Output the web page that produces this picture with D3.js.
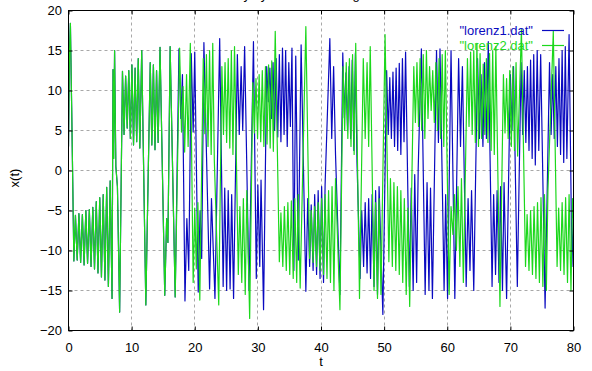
<!DOCTYPE html>
<html>
<head>
<meta charset="utf-8">
<script src="https://cdn.jsdelivr.net/npm/d3@7"></script>
<style>
  body { margin: 0; background: #fff; }
  svg { display: block; }
</style>
</head>
<body>
<div id="graph"></div>
<script>
// Tick values and series names
const xTicks = [0, 10, 20, 30, 40, 50, 60, 70, 80];
const yTicks = [-20, -15, -10, -5, 0, 5, 10, 15, 20];
const seriesNames = ['"lorenz1.dat"', '"lorenz2.dat"'];
const titleText = "Lorenz Sensitivity by a minute change";

// Turning points [t, x(t)].
// Both runs lie on top of each other until about t = 17
const sharedStart = [
  [0.0, 3.0], [0.15, 14.5], [0.3, 18.4], [0.5, 8.0], [0.85, -11.3],
  [1.1, -5.6], [1.38, -11.2], [1.65, -5.4], [1.92, -11.5], [2.2, -5.5], [2.47, -11.8],
  [2.75, -5.0], [3.02, -11.6], [3.3, -4.9], [3.57, -12.0], [3.85, -4.6], [4.12, -12.3],
  [4.4, -3.9], [4.67, -12.8], [4.95, -3.4], [5.22, -13.3], [5.5, -3.0], [5.77, -13.7],
  [6.05, -2.1], [6.32, -14.5], [6.6, -1.3], [6.9, -16.0],
  [7.05, 12.6], [7.15, 1.5], [7.3, 15.0], [7.5, 0.5], [7.75, -2.0], [8.1, -17.7],
  [8.55, 12.4], [8.8, 4.5], [9.05, 11.8], [9.3, 5.3], [9.55, 12.5], [9.8, 4.0],
  [10.05, 13.2], [10.3, 3.2], [10.55, 12.8], [10.8, 3.6], [11.05, 14.0], [11.3, 2.8],
  [11.6, 15.0], [12.25, -16.8],
  [12.95, 13.5], [13.2, 3.2], [13.45, 13.2], [13.7, 2.6], [13.95, 12.5], [14.2, 3.5],
  [14.5, 15.4], [15.25, -15.6], [15.55, -6.0], [15.75, -9.0], [16.1, 15.5], [16.9, -15.8]
];

// lorenz1.dat after the runs split
const lorenz1Tail = [
  [17.5, 15.2], [17.8, 6.5], [18.05, 12.0], [18.45, -16.3], [18.75, -6.0], [19.05, -12.5],
  [19.45, 14.6], [19.75, 4.8], [20.0, 14.8], [20.55, -15.2], [20.85, -5.0], [21.1, -11.0],
  [21.45, 16.0], [22.35, -14.8], [22.65, -3.5], [23.2, -16.0], [23.95, 16.5],
  [24.5, -14.5], [24.75, -2.2], [25.05, -15.0], [25.3, -2.5], [25.6, -14.8], [25.85, -3.0], [26.15, -16.0],
  [26.75, 14.5], [27.05, 4.5], [27.35, 13.0], [27.6, 5.0], [27.9, 15.5], [28.6, -15.0],
  [29.3, 16.1], [29.75, -13.5], [30.0, -1.8], [30.3, -12.0], [30.5, -1.2], [30.9, -17.4],
  [31.4, 13.0], [31.65, 8.6], [31.9, 12.8], [32.15, 6.5], [32.4, 13.5], [32.65, 5.0], [32.9, 14.0],
  [33.15, 4.2], [33.4, 14.5], [33.65, 3.6], [33.9, 15.3], [34.15, 4.5], [34.4, 15.0], [34.65, 3.0],
  [34.9, 13.5], [35.15, 5.5], [35.4, 15.3], [35.7, -12.5], [36.0, 14.3], [36.4, -11.2], [36.85, 15.7],
  [37.6, -15.1], [37.9, -3.5], [38.2, -12.0], [38.45, -4.3], [38.75, -12.5], [39.0, -3.0], [39.3, -13.0],
  [39.55, -2.5], [39.85, -13.5], [40.1, -2.0], [40.4, -14.0], [40.65, -1.8], [41.4, 16.5],
  [41.7, 4.0], [42.0, 13.0], [42.3, 2.0], [43.0, -15.5], [43.45, 14.7], [43.7, 6.6], [43.95, 12.2],
  [44.2, 5.0], [44.45, 13.0], [44.7, 4.0], [44.95, 13.8], [45.2, 2.5], [45.45, 14.7], [45.7, 1.1],
  [46.2, -13.5], [46.45, -5.0], [46.75, -12.0], [47.0, -4.0], [47.3, -12.8], [47.55, -3.5], [47.85, -13.5],
  [48.1, -3.0], [48.4, -14.5], [48.65, -2.5], [48.95, -15.5], [49.2, -2.0], [49.8, -18.0],
  [50.4, 12.5], [50.65, 4.5], [50.9, 11.6], [51.15, 4.0], [51.4, 12.3], [51.65, 3.0], [51.9, 12.8],
  [52.15, 2.5], [52.4, 13.4], [52.65, 2.0], [52.9, 14.0], [53.15, 3.6], [53.4, 14.8],
  [54.0, -14.5], [54.3, -2.2], [54.6, -15.0], [54.85, -0.5], [55.15, -14.0], [55.4, 0.3], [55.9, 15.2],
  [56.5, -15.5], [56.8, -1.5], [57.1, -15.0], [57.35, -2.2], [57.65, -16.0], [58.3, 15.0], [58.6, 3.5],
  [58.85, 15.2], [59.5, -15.0], [59.75, -3.0], [60.05, -16.0], [60.6, 15.0], [61.2, -16.0], [61.8, 14.0],
  [62.1, 3.0], [62.4, 13.0], [63.0, -14.5], [63.3, -3.5], [63.6, -12.5], [63.85, -2.5], [64.2, -15.0],
  [64.8, 14.0], [65.1, 4.0], [65.35, 12.0], [65.65, 3.0], [65.9, 13.5], [66.2, 4.0], [66.5, 16.1],
  [67.1, -14.5], [67.35, -3.0], [67.65, -13.0], [67.9, -2.5], [68.2, -14.0], [68.45, -2.0], [68.75, -15.0],
  [69.0, -1.5], [69.4, -16.0], [70.0, 12.0], [70.25, 5.0], [70.5, 13.0], [71.1, -14.5], [71.7, 13.5],
  [71.95, 4.5], [72.2, 12.5], [72.45, 3.5], [72.7, 13.0], [72.95, 2.5], [73.2, 13.8], [73.45, 1.5],
  [73.7, 14.5], [73.95, 0.7], [74.25, 15.0], [74.5, 2.5], [74.8, 14.5], [75.5, -17.2], [76.2, 13.5],
  [76.45, 4.5], [76.7, 12.0], [76.95, 4.0], [77.2, 13.0], [77.45, 3.0], [77.7, 14.0], [77.95, 2.0],
  [78.2, 15.0], [78.45, 1.0], [78.7, 15.5], [78.95, 1.5], [79.3, 17.0], [79.75, -12.0], [80.0, -5.0]
];

// lorenz2.dat after the runs split
const lorenz2Tail = [
  [17.6, 15.3], [17.9, 4.8], [18.15, 10.5], [18.4, 2.3], [18.7, 12.0], [18.95, 3.0], [19.3, 15.9],
  [19.75, -14.0], [20.0, -4.7], [20.25, -12.3], [20.5, -4.0], [20.8, -16.2],
  [21.35, 14.0], [21.6, 4.6], [21.85, 14.5], [22.1, 3.0], [22.35, 15.0], [22.6, 2.0], [22.85, 15.9], [23.1, 1.3],
  [23.8, -16.8], [24.3, 13.0], [24.55, 4.5], [24.8, 13.5], [25.05, 3.5], [25.3, 14.0], [25.55, 2.8],
  [25.8, 15.0], [26.05, 2.0], [26.3, 15.5], [26.9, -13.0], [27.15, -4.5], [27.45, -14.0], [27.7, -3.5],
  [28.0, -15.5], [28.25, -2.5], [28.7, -18.5], [29.2, 11.0], [29.45, 4.7], [29.7, 11.5], [29.95, 4.0],
  [30.2, 12.0], [30.45, 3.6], [30.7, 12.5], [30.95, 3.0], [31.2, 13.0], [31.45, 3.3], [31.7, 13.2],
  [31.95, 2.8], [32.2, 13.7], [32.45, 2.4], [32.75, 17.4], [33.4, -11.4], [33.65, -5.3], [33.95, -12.0],
  [34.2, -4.5], [34.5, -12.5], [34.75, -4.0], [35.05, -13.0], [35.3, -3.8], [35.6, -13.5], [35.85, -3.5],
  [36.15, -14.0], [36.4, -3.0], [36.7, -14.7], [37.6, 18.0], [38.2, -11.0], [38.45, -5.0], [38.75, -11.5],
  [39.0, -4.5], [39.3, -12.0], [39.55, -4.0], [39.85, -12.5], [40.1, -3.5], [40.4, -13.0], [40.65, -3.0],
  [40.95, -13.5], [41.2, -2.5], [41.5, -14.0], [41.75, -2.0], [42.05, -15.0], [42.3, -1.0], [43.0, -17.4],
  [43.5, 13.0], [43.75, 5.0], [44.0, 13.5], [44.25, 4.0], [44.5, 14.0], [44.75, 3.0], [45.0, 14.5],
  [45.25, 2.0], [45.5, 15.9], [46.1, -16.0], [46.7, 14.0], [47.0, 4.0], [47.3, 13.5], [47.55, 3.0],
  [47.8, 15.5], [48.4, -15.0], [48.65, -4.0], [48.95, -16.0], [49.2, -3.5], [49.5, -15.5], [50.15, 17.0],
  [50.75, -11.4], [51.0, -1.0], [51.3, -12.0], [51.55, -1.5], [51.85, -12.5], [52.1, -2.0], [52.4, -13.0],
  [52.65, -2.5], [52.95, -14.0], [53.2, -3.5], [53.5, -15.5], [53.75, -4.7], [54.05, -17.0],
  [54.7, 13.0], [54.95, 6.0], [55.2, 13.5], [55.45, 5.5], [55.7, 14.0], [55.95, 5.0], [56.2, 14.5],
  [56.45, 4.0], [56.7, 15.0], [56.95, 6.5], [57.2, 13.0], [57.45, 7.5], [57.7, 12.5], [57.95, 6.0],
  [58.2, 13.5], [58.45, 5.0], [58.7, 14.0], [58.95, 4.0], [59.2, 14.5], [59.45, 3.0], [59.7, 15.0],
  [60.3, -15.5], [60.6, -4.5], [60.9, -8.0], [61.15, -3.0], [61.45, -10.0], [61.7, -2.0], [62.0, -12.0],
  [62.25, -1.0], [62.55, -14.0], [63.2, 14.0], [63.45, 5.5], [63.7, 14.8], [63.95, 4.5], [64.2, 15.0],
  [64.45, 3.5], [64.7, 15.9], [64.95, 3.0], [65.2, 14.6], [65.45, 4.0], [65.7, 13.3], [65.95, 4.5],
  [66.2, 14.0], [66.45, 3.5], [66.7, 14.6], [66.95, 2.5], [67.2, 15.0], [67.45, 2.0], [67.7, 15.5],
  [68.35, -17.0], [68.9, 12.0], [69.15, 4.7], [69.4, 11.5], [69.65, 4.0], [69.9, 12.5], [70.15, 3.0],
  [70.4, 13.0], [70.65, 2.5], [70.9, 13.5], [71.15, 1.8], [71.75, 17.6], [72.4, -12.0], [72.65, -5.5],
  [72.95, -12.5], [73.2, -5.0], [73.5, -13.0], [73.75, -4.5], [74.05, -13.5], [74.3, -4.0], [74.6, -14.0],
  [74.85, -3.4], [75.15, -14.5], [75.4, -3.0], [75.7, -15.0], [75.95, -2.5], [76.8, 17.4], [77.4, -12.0],
  [77.65, -4.7], [77.95, -12.5], [78.2, -4.0], [78.5, -13.0], [78.75, -3.4], [79.05, -14.0], [79.3, -3.0],
  [79.6, -15.0], [79.85, -3.5], [80.0, -6.0]
];

const lorenz1 = sharedStart.concat(lorenz1Tail);
const lorenz2 = sharedStart.concat(lorenz2Tail);

// Size of the page and of the framed plot area
const width = 592;
const height = 371;
const plot = {left: 68.5, right: 573.5, top: 10.5, bottom: 330.5};
const font = "'Liberation Sans', Arial, Helvetica, sans-serif";
const colors = ["#0a0ac0", "#1cd81c"];

const svg = d3.select("#graph")
  .append("svg")
    .attr("width", width)
    .attr("height", height)
    .style("font-family", font);

svg.append("rect")
  .attr("width", width)
  .attr("height", height)
  .attr("fill", "#fff");

// Scales
const x = d3.scaleLinear().domain([0, 80]).range([plot.left, plot.right]);
const y = d3.scaleLinear().domain([-20, 20]).range([plot.bottom, plot.top]);
const crisp = v => Math.round(v - 0.5) + 0.5;

// Title sits above the page edge, as in the original only the descenders show
svg.append("text")
  .attr("x", 148)
  .attr("y", -1)
  .style("font-size", "13px")
  .attr("fill", "#000")
  .text(titleText);

// Dashed gridlines
const grid = svg.append("g")
  .attr("stroke", "#a8a8a8")
  .attr("stroke-width", 1)
  .attr("stroke-dasharray", "3,3");
grid.selectAll(".vgrid")
  .data(xTicks.slice(1, -1))
  .join("line")
    .attr("x1", d => crisp(x(d))).attr("x2", d => crisp(x(d)))
    .attr("y1", plot.top).attr("y2", plot.bottom);
grid.selectAll(".hgrid")
  .data(yTicks.slice(1, -1))
  .join("line")
    .attr("x1", plot.left).attr("x2", plot.right)
    .attr("y1", d => crisp(y(d))).attr("y2", d => crisp(y(d)));

// Clip the curves to the frame
svg.append("clipPath")
  .attr("id", "clip")
  .append("rect")
    .attr("x", plot.left).attr("y", plot.top)
    .attr("width", plot.right - plot.left).attr("height", plot.bottom - plot.top);

const line = d3.line()
  .x(d => x(d[0]))
  .y(d => y(d[1]));

svg.append("g")
  .attr("clip-path", "url(#clip)")
  .selectAll("path")
  .data([lorenz1, lorenz2])
  .join("path")
    .attr("d", d => line(d))
    .attr("fill", "none")
    .attr("stroke", (d, i) => colors[i])
    .attr("stroke-width", 1.2)
    .attr("stroke-linejoin", "round");

// Axes with inward ticks on all four sides
function styleAxis(g) {
  g.select(".domain").remove();
  g.selectAll("line").attr("stroke", "#000");
  g.selectAll("text")
    .attr("fill", "#000")
    .style("font-family", font)
    .style("font-size", "13px");
}

svg.append("g")
  .attr("transform", `translate(0,${plot.bottom})`)
  .call(d3.axisBottom(x).tickValues(xTicks).tickFormat(d3.format("d"))
    .tickSizeInner(-4).tickSizeOuter(0).tickPadding(12))
  .call(styleAxis);

svg.append("g")
  .attr("transform", `translate(0,${plot.top})`)
  .call(d3.axisTop(x).tickValues(xTicks).tickFormat("")
    .tickSizeInner(-4).tickSizeOuter(0))
  .call(styleAxis);

svg.append("g")
  .attr("transform", `translate(${plot.left},0)`)
  .call(d3.axisLeft(y).tickValues(yTicks).tickFormat(d3.format("d"))
    .tickSizeInner(-4).tickSizeOuter(0).tickPadding(6.5))
  .call(styleAxis);

svg.append("g")
  .attr("transform", `translate(${plot.right},0)`)
  .call(d3.axisRight(y).tickValues(yTicks).tickFormat("")
    .tickSizeInner(-4).tickSizeOuter(0))
  .call(styleAxis);

// Frame
svg.append("rect")
  .attr("x", plot.left).attr("y", plot.top)
  .attr("width", plot.right - plot.left).attr("height", plot.bottom - plot.top)
  .attr("fill", "none")
  .attr("stroke", "#000");

// Axis labels
svg.append("text")
  .attr("x", 321)
  .attr("y", 366)
  .attr("text-anchor", "middle")
  .style("font-size", "13px")
  .text("t");

svg.append("text")
  .attr("transform", "translate(19,178) rotate(-90)")
  .attr("text-anchor", "middle")
  .style("font-size", "13px")
  .text("x(t)");

// Legend, top right inside the frame
const legend = svg.append("g")
  .selectAll("g")
  .data(seriesNames)
  .join("g")
    .attr("transform", (d, i) => `translate(0,${30.5 + i * 15})`);

legend.append("text")
  .attr("x", 533)
  .attr("y", 4.5)
  .attr("text-anchor", "end")
  .style("font-size", "13px")
  .attr("fill", (d, i) => colors[i])
  .text(d => d);

legend.append("line")
  .attr("x1", 542).attr("x2", 564)
  .attr("y1", 0).attr("y2", 0)
  .attr("stroke", (d, i) => colors[i])
  .attr("stroke-width", 1.2);
</script>
</body>
</html>
